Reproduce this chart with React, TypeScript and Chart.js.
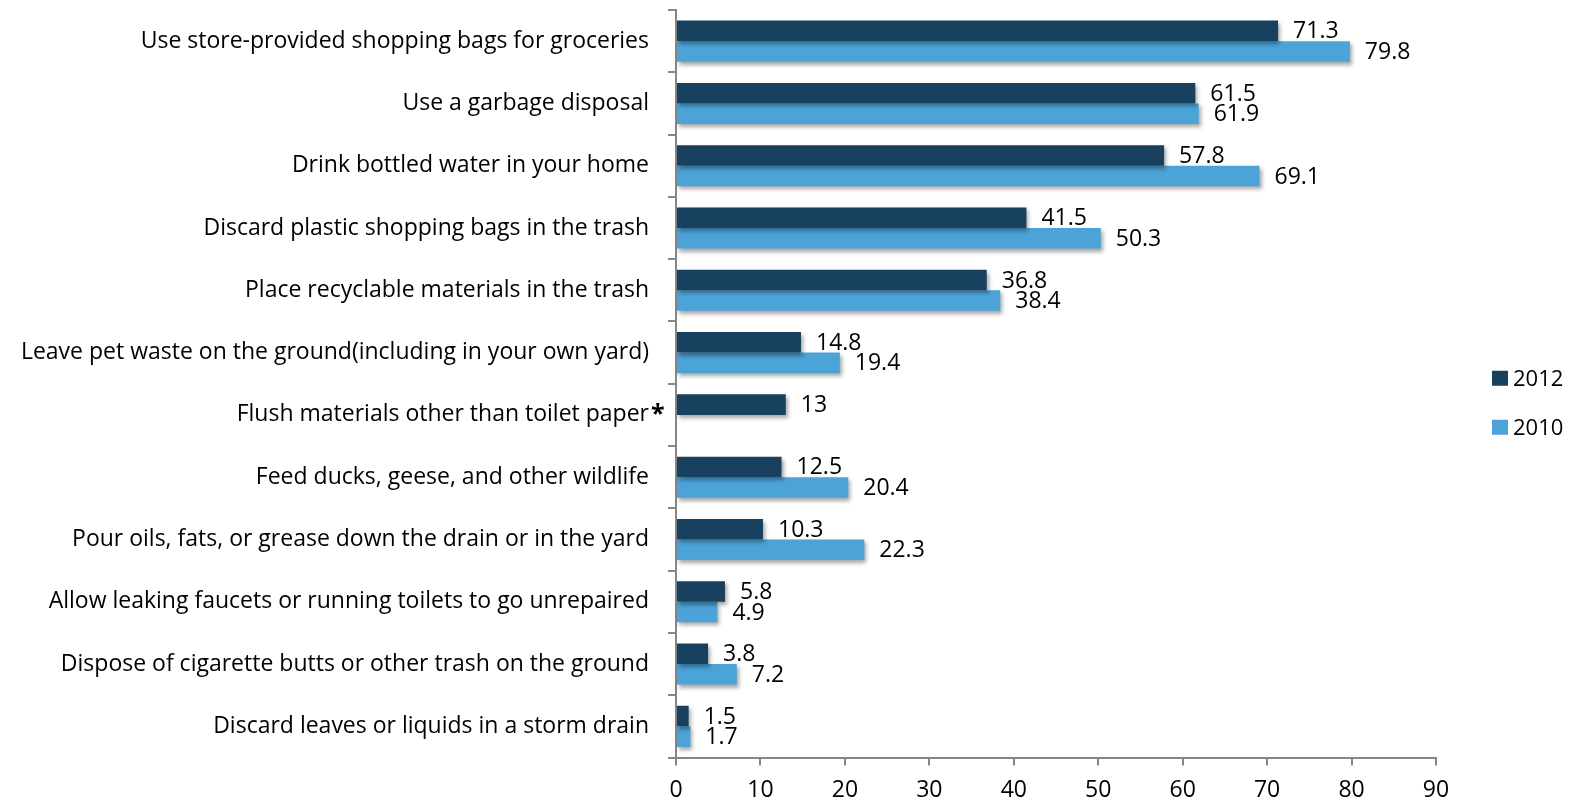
import React, { useEffect, useRef } from "react";
import { Chart, registerables } from "chart.js";

Chart.register(...registerables);

const categories = [
  "Use store-provided shopping bags for groceries",
  "Use a garbage disposal",
  "Drink bottled water in your home",
  "Discard plastic shopping bags in the trash",
  "Place recyclable materials in the trash",
  "Leave pet waste on the ground(including in your own yard)",
  "Flush materials other than toilet paper",
  "Feed ducks, geese, and other wildlife",
  "Pour oils, fats, or grease down the drain or in the yard",
  "Allow leaking faucets or running toilets to go unrepaired",
  "Dispose of cigarette butts or other trash on the ground",
  "Discard leaves or liquids in a storm drain",
];

const values2012 = [71.3, 61.5, 57.8, 41.5, 36.8, 14.8, 13, 12.5, 10.3, 5.8, 3.8, 1.5];
const values2010 = [79.8, 61.9, 69.1, 50.3, 38.4, 19.4, null, 20.4, 22.3, 4.9, 7.2, 1.7];

const seriesNames = ["2012", "2010"];
const seriesColors = ["#17415E", "#4BA3D8"];

const xTicks = [0, 10, 20, 30, 40, 50, 60, 70, 80, 90];
const asteriskIndex = 6;

const FONT = "'Open Sans'";
const FONT_SIZE = 23;
const AXIS_GRAY = "#868686";
const TICK_LEN = 8;
const Y_PAD = 19;

export default function App() {
  const ref = useRef<HTMLCanvasElement | null>(null);

  useEffect(() => {
    if (!ref.current) return;
    Chart.defaults.color = "#000";

    const shadowPlugin = {
      id: "barShadow",
      beforeDatasetDraw(chart: any) {
        const ctx = chart.ctx;
        ctx.save();
        ctx.shadowColor = "rgba(0,0,0,0.35)";
        ctx.shadowBlur = 4;
        ctx.shadowOffsetX = 2;
        ctx.shadowOffsetY = 3;
      },
      afterDatasetDraw(chart: any) {
        chart.ctx.restore();
      },
    };

    const labelPlugin = {
      id: "valueLabels",
      afterDatasetsDraw(chart: any) {
        const ctx = chart.ctx;
        ctx.save();
        ctx.font = `${FONT_SIZE}px ${FONT}`;
        ctx.fillStyle = "#000";
        ctx.textBaseline = "middle";
        ctx.textAlign = "left";
        chart.data.datasets.forEach((ds: any, di: number) => {
          const meta = chart.getDatasetMeta(di);
          meta.data.forEach((el: any, i: number) => {
            const v = ds.data[i];
            if (v === null || v === undefined) return;
            ctx.fillText(String(v), el.x + 15, el.y + 1);
          });
        });
        // asterisk after the category label
        const y = chart.scales.y;
        const py = y.getPixelForValue(asteriskIndex);
        ctx.font = `bold 25px ${FONT}`;
        ctx.textBaseline = "alphabetic";
        ctx.fillText("*", y.right - TICK_LEN - Y_PAD + 2, py + 7);
        // legend
        ctx.font = `22px ${FONT}`;
        ctx.textBaseline = "middle";
        const area = chart.chartArea;
        const midY = (area.top + area.bottom) / 2 + 19;
        seriesNames.forEach((name, i) => {
          const cy = midY + (i - 0.5) * 49;
          ctx.fillStyle = seriesColors[i];
          ctx.fillRect(area.right + 56, cy - 7.5, 16, 15);
          ctx.fillStyle = "#000";
          ctx.fillText(name, area.right + 77, cy + 1);
        });
        ctx.restore();
      },
    };

    const chart = new Chart(ref.current, {
      type: "bar",
      data: {
        labels: categories,
        datasets: [
          {
            label: seriesNames[0],
            data: values2012,
            backgroundColor: seriesColors[0],
            borderWidth: 0,
          },
          {
            label: seriesNames[1],
            data: values2010 as any,
            backgroundColor: seriesColors[1],
            borderWidth: 0,
          },
        ],
      },
      options: {
        indexAxis: "y",
        animation: false,
        responsive: true,
        maintainAspectRatio: false,
        datasets: {
          bar: { categoryPercentage: 0.66, barPercentage: 1 },
        },
        layout: { padding: { left: 0, top: 10, right: 137, bottom: 0 } },
        plugins: {
          legend: { display: false },
          tooltip: { enabled: false },
        },
        scales: {
          x: {
            type: "linear",
            min: 0,
            max: 90,
            afterBuildTicks(scale: any) {
              scale.ticks = xTicks.map((v) => ({ value: v }));
            },
            afterFit(scale: any) {
              scale.height = 43.5;
              scale.paddingLeft = 0;
              scale.paddingRight = 0;
            },
            grid: {
              drawOnChartArea: false,
              drawTicks: true,
              tickLength: TICK_LEN,
              color: AXIS_GRAY,
              lineWidth: 2,
            },
            border: { color: AXIS_GRAY, width: 2 },
            ticks: {
              padding: 11,
              font: { family: FONT, size: FONT_SIZE },
              color: "#000",
            },
          },
          y: {
            type: "category",
            afterFit(scale: any) {
              scale.width = 676;
              scale.paddingTop = 0;
              scale.paddingBottom = 0;
            },
            grid: {
              offset: true,
              drawOnChartArea: false,
              drawTicks: true,
              tickLength: TICK_LEN,
              color: AXIS_GRAY,
              lineWidth: 2,
            },
            border: { color: AXIS_GRAY, width: 2 },
            ticks: {
              padding: Y_PAD,
              font: { family: FONT, size: FONT_SIZE },
              color: "#000",
              autoSkip: false,
            },
          },
        },
      },
      plugins: [shadowPlugin, labelPlugin],
    });

    return () => chart.destroy();
  }, []);

  return (
    <div style={{ position: "fixed", left: 0, top: 0, width: 1573, height: 801, background: "#fff" }}>
      <canvas ref={ref} />
    </div>
  );
}
